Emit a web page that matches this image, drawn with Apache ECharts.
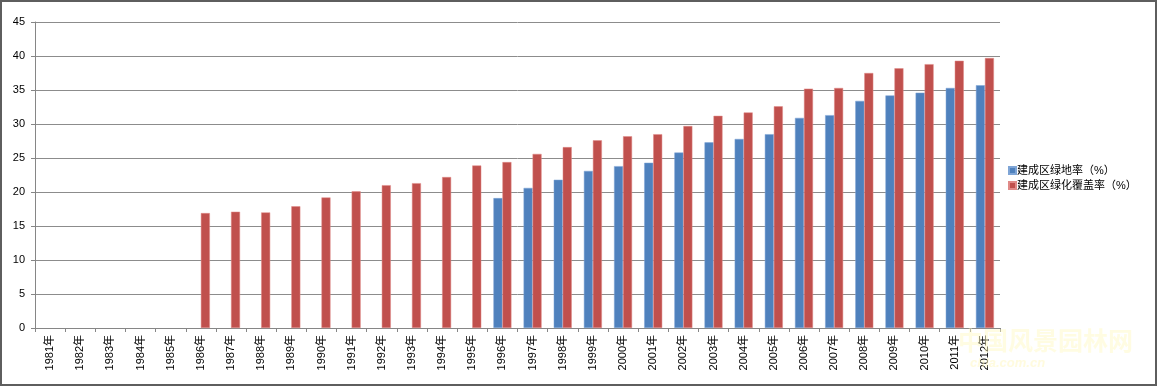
<!DOCTYPE html>
<html>
<head>
<meta charset="utf-8">
<script src="https://cdn.jsdelivr.net/npm/echarts@6/dist/echarts.min.js"></script>
<style>
html,body{margin:0;padding:0;background:#fff;}
#frame{width:1157px;height:386px;box-sizing:border-box;border:2px solid #5e5e5e;position:relative;overflow:hidden;}
#chart{position:absolute;left:-2px;top:-2px;width:1157px;height:386px;}
</style>
</head>
<body>
<div id="frame"><div id="chart"></div></div>
<script>
const categories = ['1981年','1982年','1983年','1984年','1985年','1986年','1987年','1988年','1989年','1990年','1991年','1992年','1993年','1994年','1995年','1996年','1997年','1998年','1999年','2000年','2001年','2002年','2003年','2004年','2005年','2006年','2007年','2008年','2009年','2010年','2011年','2012年'];
const greenRate = [null,null,null,null,null,null,null,null,null,null,null,null,null,null,null,19.1,20.6,21.8,23.1,23.8,24.3,25.8,27.3,27.8,28.5,30.9,31.3,33.4,34.2,34.6,35.3,35.7];
const coverRate = [null,null,null,null,null,16.9,17.1,17.0,17.9,19.2,20.1,21.0,21.3,22.2,23.9,24.4,25.6,26.6,27.6,28.2,28.5,29.7,31.2,31.7,32.6,35.2,35.3,37.5,38.2,38.8,39.3,39.7];
const seriesNames = ['建成区绿地率（%）','建成区绿化覆盖率（%）'];
const yTicks = {min:0, max:45, interval:5};

const chart = echarts.init(document.getElementById('chart'), null, {renderer:'canvas'});
const font = '"Liberation Sans","Noto Sans CJK SC",sans-serif';
chart.setOption({
  animation:false,
  backgroundColor:'transparent',
  grid:{left:35, right:157, top:22, bottom:58, containLabel:false},
  legend:{
    orient:'vertical', left:1003, top:160, itemWidth:7, itemHeight:7, itemGap:4,
    icon:'rect',
    textStyle:{fontSize:11, color:'#000', fontFamily:font, padding:[0,0,0,-4]},
    data:seriesNames
  },
  xAxis:{
    type:'category', data:categories, boundaryGap:true,
    axisLine:{lineStyle:{color:'#868686', width:1}},
    axisTick:{show:true, alignWithLabel:false, length:4, lineStyle:{color:'#868686'}},
    axisLabel:{rotate:90, interval:0, margin:7, fontSize:11, color:'#000', fontFamily:font}
  },
  yAxis:{
    type:'value', min:yTicks.min, max:yTicks.max, interval:yTicks.interval,
    axisLine:{show:true, lineStyle:{color:'#868686', width:1}},
    axisTick:{show:true, length:4, lineStyle:{color:'#868686'}},
    axisLabel:{margin:10, fontSize:11, color:'#000', fontFamily:font},
    splitLine:{lineStyle:{color:'#8c8c8c', width:1}}
  },
  series:[
    {name:seriesNames[0], type:'bar', data:greenRate, barWidth:9, barGap:'0%',
     itemStyle:{color:'#4F81BD', borderColor:'#7fa5d6', borderWidth:0.5}},
    {name:seriesNames[1], type:'bar', data:coverRate, barWidth:9, barGap:'0%',
     itemStyle:{color:'#C0504D', borderColor:'#e08a88', borderWidth:0.5}}
  ],
  graphic:[
    {type:'text', left:958, top:328, silent:true, z:100,
     style:{text:'中国风景园林网', fontSize:25, fontWeight:'bold', fill:'rgba(255,248,190,0.45)', fontFamily:'"Noto Sans CJK SC",sans-serif'}},
    {type:'text', left:970, top:357, silent:true, z:100,
     style:{text:'chla.com.cn', fontSize:13, fontWeight:'bold', fontStyle:'italic', fill:'rgba(255,248,190,0.5)', fontFamily:font}}
  ]
});
</script>
</body>
</html>
